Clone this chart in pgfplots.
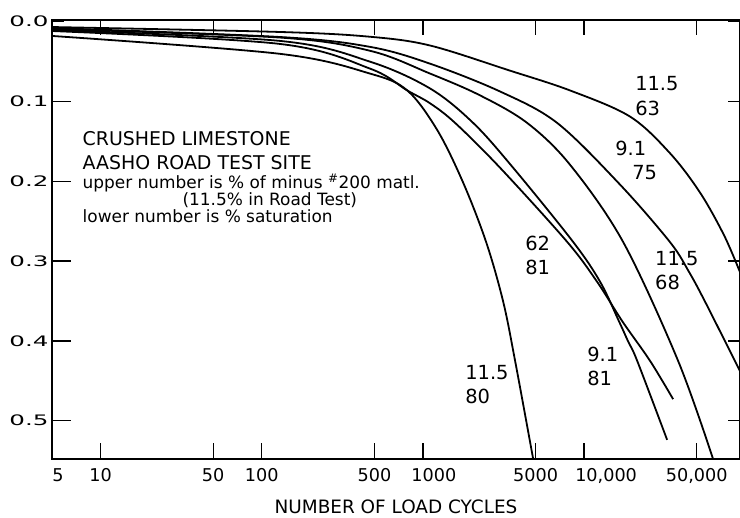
\documentclass[border=0pt]{standalone}
\usepackage{fontspec}
\setmainfont{DejaVu Sans}
\newfontfamily\ytf{DejaVu Sans}[FakeStretch=1.7]
\usepackage{pgfplots}
\pgfplotsset{compat=1.18}
\pgfplotstableread{
x y
5.03 0.0068
130 0.013
471 0.019
1110 0.030
3476 0.0615
8190 0.0863
19270 0.119
34130 0.165
52400 0.2143
73800 0.2677
92700 0.314
}\cA
\pgfplotstableread{
x y
5.03 0.0081
130 0.0193
471 0.0317
1110 0.0528
3013 0.0876
6810 0.127
16720 0.2043
34140 0.2764
44770 0.3137
56270 0.3509
86320 0.4255
92700 0.438
}\cB
\pgfplotstableread{
x y
5.03 0.0093
130 0.020
471 0.0366
1110 0.0652
2265 0.0925
4436 0.127
8190 0.1795
17450 0.276
38280 0.425
63100 0.548
}\cC
\pgfplotstableread{
x y
5.03 0.0106
130 0.0242
471 0.0503
1110 0.0839
2051 0.127
3631 0.1832
8546 0.276
12570 0.326
16480 0.3758
18740 0.4006
21340 0.425
32730 0.524
}\cD
\pgfplotstableread{
x y
5.03 0.0118
130 0.028
471 0.059
800 0.0863
1110 0.1025
1585 0.127
3013 0.1832
7853 0.276
12040 0.326
17300 0.3758
25640 0.425
35650 0.473
}\cE
\pgfplotstableread{
x y
5.03 0.018
130 0.0404
471 0.0652
800 0.0863
1228 0.136
1778 0.2019
2469 0.2764
3147 0.3509
3735 0.4255
4830 0.548
}\cF
\begin{document}
\begin{tikzpicture}[
  lbl/.style={font=\fontsize{19.5}{22}\selectfont, anchor=base west, inner sep=0pt},
  txt/.style={font=\fontsize{17}{20}\selectfont, anchor=base west, inner sep=0pt},
  capt/.style={font=\fontsize{19}{22}\selectfont, anchor=base west, inner sep=0pt},
  crv/.style={line width=1.8bp, black, smooth, tension=0.55, no marks},
  tk/.style={line width=1.3bp, black}]
\begin{axis}[
  at={(0,0)}, anchor=south west,
  scale only axis, width=688bp, height=439bp,
  xmode=log, xmin=5, xmax=92700,
  ymin=-0.002, ymax=0.548, y dir=reverse,
  xtick={5,10,50,100,500,1000,5000,10000,50000},
  xticklabels={\hspace*{12bp}5,10,50,100,500,\hspace*{22bp}1000,5000,{\hspace*{44bp}10,000},{50,000}},
  ytick={0,0.1,0.2,0.3,0.4,0.5},
  yticklabels={\raisebox{-5bp}{0.0},0.1,0.2,0.3,0.4,0.5},
  tick align=inside,
  major tick length=12bp,
  every tick/.style={line width=1.2bp, black},
  axis line style={line width=1.5bp},
  xticklabel style={font=\fontsize{17.7}{20}\selectfont, yshift=-6bp},
  yticklabel style={font=\ytf\fontsize{14.5}{17}\selectfont},
  xlabel={NUMBER OF LOAD CYCLES},
  xlabel style={font=\fontsize{18.5}{21}\selectfont, yshift=-9bp},
]
\addplot[crv] table {\cA};
\addplot[crv] table {\cB};
\addplot[crv] table {\cC};
\addplot[crv] table {\cD};
\addplot[crv] table {\cE};
\addplot[crv] table {\cF};
\pgfplotsinvokeforeach{10,50,100,500,1000,5000,10000,50000}{
  \draw[tk] (axis cs:#1,0.548) -- (axis cs:#1,0.528);
  \draw[tk] (axis cs:#1,-0.002) -- (axis cs:#1,0.0166);
}
\pgfplotsinvokeforeach{0.1,0.2,0.3,0.4,0.5}{
  \draw[tk] (axis cs:5,#1) -- (axis cs:6.56,#1);
  \draw[tk] (axis cs:92700,#1) -- (axis cs:78100,#1);
}
\node[lbl] at (axis cs:20700,0.0863) {11.5};
\node[lbl] at (axis cs:20700,0.1174) {63};
\node[lbl] at (axis cs:15570,0.1683) {9.1};
\node[lbl] at (axis cs:19860,0.1981) {75};
\node[lbl] at (axis cs:27540,0.3050) {11.5};
\node[lbl] at (axis cs:27540,0.3360) {68};
\node[lbl] at (axis cs:4305,0.2863) {62};
\node[lbl] at (axis cs:4305,0.3174) {81};
\node[lbl] at (axis cs:10430,0.4255) {9.1};
\node[lbl] at (axis cs:10430,0.4565) {81};
\node[lbl] at (axis cs:1828,0.4478) {11.5};
\node[lbl] at (axis cs:1828,0.4789) {80};
\node[capt] at (axis cs:7.73,0.1547) {CRUSHED LIMESTONE};
\node[capt] at (axis cs:7.73,0.1857) {AASHO ROAD TEST SITE};
\node[txt] at (axis cs:7.73,0.2096) {upper number is \% of minus \textsuperscript{\#}200 matl.};
\node[txt] at (axis cs:32.2,0.2304) {(11.5\% in Road Test)};
\node[txt] at (axis cs:7.73,0.2516) {lower number is \% saturation};
\end{axis}
\pgfresetboundingbox
\useasboundingbox (-52bp,-59bp) rectangle (688bp,459bp);
\end{tikzpicture}
\end{document}
